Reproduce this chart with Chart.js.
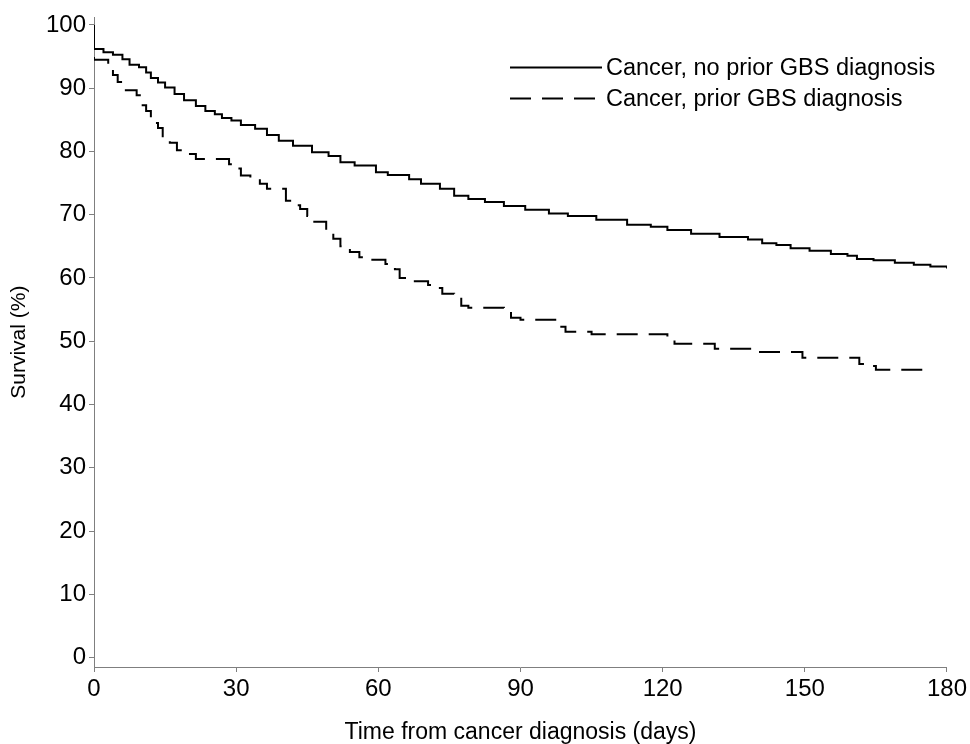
<!DOCTYPE html>
<html>
<head>
<meta charset="utf-8">
<script src="https://cdn.jsdelivr.net/npm/chart.js@4"></script>
<style>
  html, body { margin: 0; padding: 0; background: #fff; }
  #wrap { width: 970px; height: 744px; }
</style>
</head>
<body>
<div id="wrap"><canvas id="km"></canvas></div>
<script>
// Kaplan-Meier curves (day, survival %)
const seriesNames = ['Cancer, no prior GBS diagnosis', 'Cancer, prior GBS diagnosis'];

const daysNoGbs = [0, 0, 2, 4, 6, 7.5, 9.5, 11, 12, 13.5, 15, 17, 19, 21.5, 23.5, 25.5, 27, 29, 31, 34,
  36.5, 39, 42, 46, 49.5, 52, 55, 59.5, 62, 66.5, 69, 73, 76, 79, 82.5, 86.5, 91, 96, 100, 106,
  112.5, 117.5, 121, 126, 132, 138, 141, 144, 147, 151, 155.5, 159, 161, 164.5, 169, 173, 176.5, 180];
const survNoGbs = [100, 96.2, 95.7, 95.3, 94.6, 93.7, 93.3, 92.5, 91.6, 90.9, 90.1, 89.1, 88.1, 87.2, 86.4, 85.9, 85.3, 84.9, 84.2, 83.6,
  82.6, 81.7, 80.9, 79.9, 79.3, 78.3, 77.8, 76.7, 76.3, 75.6, 74.9, 74.1, 73.0, 72.5, 72.0, 71.4, 70.8, 70.2, 69.8, 69.2,
  68.4, 68.1, 67.6, 67.0, 66.5, 66.1, 65.5, 65.2, 64.7, 64.3, 63.8, 63.5, 63.0, 62.8, 62.4, 62.1, 61.8, 61.5];

const daysGbs = [0, 0, 3, 4, 5, 6.5, 9, 10, 11, 12, 13.5, 14.5, 16, 17.5, 20, 21.5, 28.5, 30, 31, 33,
  35, 36.5, 40.5, 42, 43.5, 45, 46, 49, 50.5, 52, 54, 56, 58.5, 61.5, 63.5, 64.5, 66, 70.5, 72, 73.5,
  76, 77.5, 79, 86.5, 88, 90, 98, 99.5, 105, 121, 122.5, 131, 140, 149.5, 161.5, 163, 165, 176];
const survGbs = [100, 94.5, 93.3, 92.1, 91.0, 89.7, 88.9, 87.3, 86.4, 84.5, 83.7, 82.2, 81.4, 80.2, 79.6, 78.8, 78.0, 77.3, 76.2, 75.7,
  74.9, 74.1, 72.2, 71.5, 70.9, 69.8, 68.9, 67.6, 66.2, 65.0, 64.1, 63.3, 62.9, 62.2, 61.4, 60.0, 59.5, 58.9, 58.4, 57.5,
  56.9, 55.6, 55.3, 54.8, 53.7, 53.4, 52.3, 51.5, 51.1, 50.5, 49.6, 48.8, 48.3, 47.4, 46.4, 46.1, 45.5, 45.2];

const xTicks = [0, 30, 60, 90, 120, 150, 180];
const yTicks = [0, 10, 20, 30, 40, 50, 60, 70, 80, 90, 100];

const FONT = 'Liberation Sans, Arial, sans-serif';
const AXIS_GREY = '#7f7f7f';

function toPoints(days, surv) {
  return days.map((d, i) => ({ x: d, y: surv[i] }));
}

// legend drawn inside the plot, upper right
const insideLegend = {
  id: 'insideLegend',
  afterDraw(chart) {
    const ctx = chart.ctx;
    const area = chart.chartArea;
    const lx = area.left + 416;
    const ly = area.top + 50;
    ctx.save();
    ctx.font = '23.5px ' + FONT;
    ctx.textBaseline = 'middle';
    ctx.fillStyle = '#000';
    chart.data.datasets.forEach((ds, i) => {
      const y = ly + i * 31;
      ctx.beginPath();
      ctx.setLineDash(ds.borderDash || []);
      ctx.lineWidth = ds.borderWidth;
      ctx.strokeStyle = ds.borderColor;
      ctx.moveTo(lx, y);
      ctx.lineTo(lx + 92, y);
      ctx.stroke();
      ctx.setLineDash([]);
      ctx.fillText(ds.label, lx + 96, y + 1);
    });
    ctx.restore();
  }
};

new Chart(document.getElementById('km'), {
  type: 'line',
  data: {
    datasets: [
      {
        label: seriesNames[0],
        data: toPoints(daysNoGbs, survNoGbs),
        borderColor: '#000',
        borderWidth: 2,
        stepped: true,
        pointRadius: 0,
        fill: false
      },
      {
        label: seriesNames[1],
        data: toPoints(daysGbs, survGbs),
        borderColor: '#000',
        borderWidth: 2,
        borderDash: [21, 11],
        stepped: true,
        pointRadius: 0,
        fill: false
      }
    ]
  },
  options: {
    responsive: true,
    maintainAspectRatio: false,
    animation: false,
    layout: { padding: { top: 16, right: 21, left: 0, bottom: 0 } },
    plugins: {
      legend: { display: false },
      tooltip: { enabled: false }
    },
    scales: {
      x: {
        type: 'linear',
        min: 0,
        max: 180,
        afterFit(scale) { scale.height = 77; },
        afterBuildTicks(scale) { scale.ticks = xTicks.map(v => ({ value: v })); },
        ticks: { color: '#000', font: { family: FONT, size: 24 }, padding: 3, maxRotation: 0 },
        grid: { drawOnChartArea: false, drawTicks: true, tickLength: 5, color: AXIS_GREY },
        border: { color: AXIS_GREY, width: 1 },
        title: {
          display: true,
          text: 'Time from cancer diagnosis (days)',
          color: '#000',
          font: { family: FONT, size: 23, lineHeight: 1 },
          padding: { top: 0, bottom: 0 }
        }
      },
      y: {
        type: 'linear',
        min: -1.5,
        max: 101.2,
        afterFit(scale) { scale.width = 94; },
        afterBuildTicks(scale) { scale.ticks = yTicks.map(v => ({ value: v })); },
        ticks: { color: '#000', font: { family: FONT, size: 24 }, padding: 3 },
        grid: { drawOnChartArea: false, drawTicks: true, tickLength: 5, color: AXIS_GREY },
        border: { color: AXIS_GREY, width: 1 },
        title: {
          display: true,
          text: 'Survival (%)',
          color: '#000',
          font: { family: FONT, size: 21 },
          padding: { top: 7, bottom: 0 }
        }
      }
    }
  },
  plugins: [insideLegend]
});
</script>
</body>
</html>
